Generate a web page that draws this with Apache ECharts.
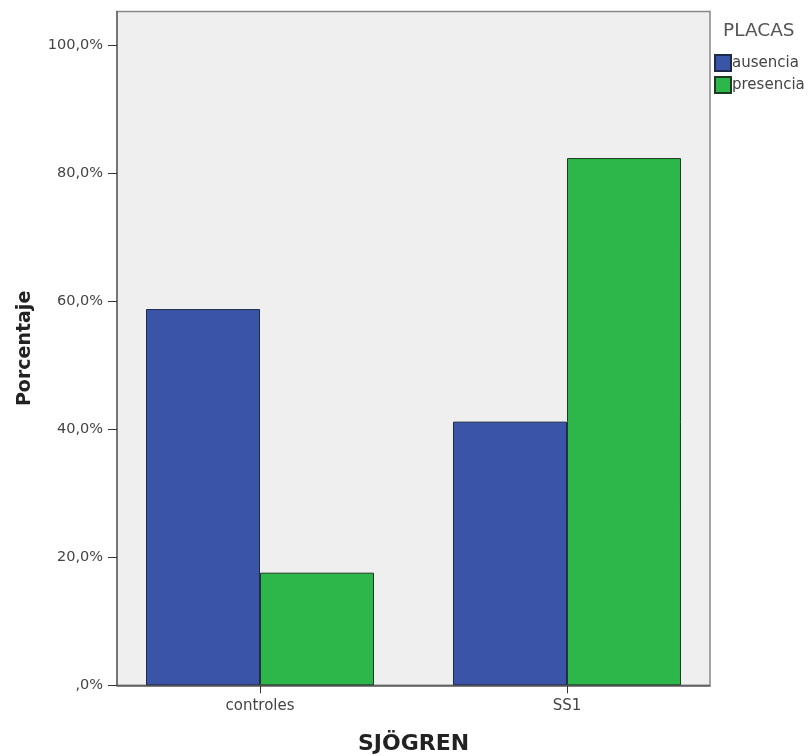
<!DOCTYPE html>
<html><head><meta charset="utf-8">
<script src="https://cdn.jsdelivr.net/npm/echarts@6/dist/echarts.min.js"></script>
<style>html,body{margin:0;padding:0;background:#fff}#c{width:810px;height:756px}</style>
</head><body><div id="c"></div>
<script>
const categories = ['controles', 'SS1'];
const ausencia = [58.8, 41.2];
const presencia = [17.6, 82.4];
const yTicks = [0, 20, 40, 60, 80, 100];
const seriesNames = ['ausencia', 'presencia'];

const font = '"DejaVu Sans", sans-serif';
const chart = echarts.init(document.getElementById('c'));
chart.setOption({
  animation: false,
  title: { text: 'PLACAS', left: 723, top: 22, padding: 0, textStyle: { fontFamily: font, fontSize: 18.5, fontWeight: 'normal', color: '#555' } },
  legend: {
    orient: 'vertical', left: 714, top: 54, padding: 0, itemWidth: 16, itemHeight: 16, itemGap: 4,
    icon: 'rect', textStyle: { fontFamily: font, fontSize: 15, color: '#444', padding: [0, 0, 0, -4] },
    data: seriesNames
  },
  grid: { left: 117, right: 100, top: 11.5, bottom: 70.7, outerBoundsMode: 'none', containLabel: false, show: true, backgroundColor: '#efefef', borderColor: '#888', borderWidth: 1.5 },
  xAxis: {
    type: 'value', min: -0.4658, max: 1.4658,
    name: 'SJÖGREN', nameLocation: 'middle', nameGap: 48,
    nameTextStyle: { fontFamily: font, fontSize: 22, fontWeight: 'bold', color: '#222' },
    axisLine: { show: true, onZero: false, lineStyle: { color: '#555', width: 1.5 } },
    axisTick: { show: true, customValues: [0, 1], length: 8, lineStyle: { color: '#333' } },
    axisLabel: { customValues: [0, 1], formatter: v => categories[Math.round(v)], fontFamily: font, fontSize: 15, color: '#444', margin: 13 },
    splitLine: { show: false }
  },
  yAxis: {
    type: 'value', min: 0, max: 105.3, interval: 20,
    name: 'Porcentaje', nameLocation: 'middle', nameGap: 82, nameRotate: 90,
    nameTextStyle: { fontFamily: font, fontSize: 19, fontWeight: 'bold', color: '#222' },
    axisLine: { show: true, onZero: false, lineStyle: { color: '#666', width: 1.5 } },
    axisTick: { show: true, customValues: yTicks, length: 9, lineStyle: { color: '#333' } },
    axisLabel: { customValues: yTicks, formatter: v => (v === 0 ? '' : String(v)) + ',0%', fontFamily: font, fontSize: 14.5, color: '#444', margin: 14 },
    splitLine: { show: false }
  },
  series: [
    { name: seriesNames[0], type: 'bar', barWidth: 114, barGap: '0%', data: ausencia.map((v, i) => [i, v]),
      itemStyle: { color: '#3a55a7', borderColor: '#1e2a4a', borderWidth: 1 } },
    { name: seriesNames[1], type: 'bar', barWidth: 114, barGap: '0%', data: presencia.map((v, i) => [i, v]),
      itemStyle: { color: '#2db74a', borderColor: '#1d3a22', borderWidth: 1 } }
  ]
});
</script></body></html>
